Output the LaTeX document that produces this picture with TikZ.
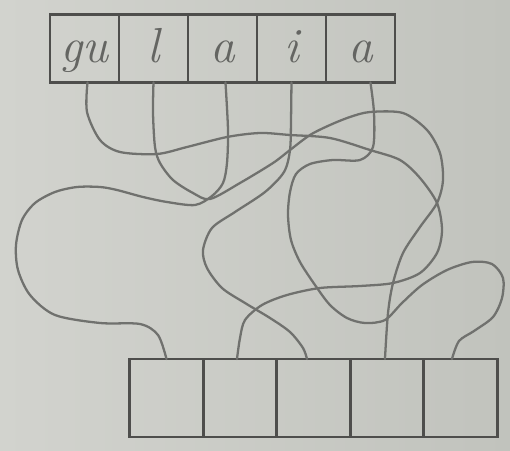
\documentclass[tikz,border=0pt]{standalone}
\usepackage{xcolor}
\usepackage{tikz}
\usetikzlibrary{positioning}
\definecolor{paperlight}{RGB}{210,211,206}
\definecolor{paperdark}{RGB}{193,195,189}
\definecolor{pencil}{RGB}{112,113,110}
\definecolor{boxline}{RGB}{78,78,76}
\definecolor{letter}{RGB}{100,101,98}

\begin{document}
\begin{tikzpicture}[x=0.02cm, y=-0.02cm,
        topcell/.style={rectangle, draw=boxline, line width=1.6pt, minimum width=1.38cm, minimum height=1.36cm, inner sep=0pt, outer sep=0pt, text=letter, font=\fontsize{28}{30}\selectfont\itshape, text height=0.6cm, text depth=0.06cm},
        botcell/.style={rectangle, draw=boxline, line width=1.6pt, minimum width=1.47cm, minimum height=1.56cm, inner sep=0pt, outer sep=0pt},
        wire/.style={draw=pencil, line width=1.3pt, line cap=round, line join=round}
    ]
        \shade[left color=paperlight, right color=paperdark] (0,0) rectangle (510,450);
        \node[topcell] (t1) at (84.5,48.5) {gu};
        \node[topcell, right=0pt of t1] (t2) {l};
        \node[topcell, right=0pt of t2] (t3) {a};
        \node[topcell, right=0pt of t3] (t4) {i};
        \node[topcell, right=0pt of t4] (t5) {a};
        \node[botcell] (b1) at (166.5,398) {};
        \node[botcell, right=0pt of b1] (b2) {};
        \node[botcell, right=0pt of b2] (b3) {};
        \node[botcell, right=0pt of b3] (b4) {};
        \node[botcell, right=0pt of b4] (b5) {};
        \draw[wire] plot[smooth] coordinates {([xshift=0.06cm]t1.south) (87,112) (100,140) (120,152) (157,154) (187,147) (227,137) (260,133) (290,135) (330,138) (370,150) (400,160) (420,178) (437,203) (442,230) (437,253) (420,273) (393,283) (360,286) (320,288) (287,295) (262,305) (245,320) (240,338) ([xshift=-0.06cm]b2.north)};
        \draw[wire] plot[smooth] coordinates {(t2.south) (153,113) (155,147) (160,163) (173,180) (193,193) (210,199) (240,183) (273,163) (290,150) (310,135) (330,125) (350,117) (370,112) (403,113) (427,130) (440,153) (443,180) (437,203) (420,227) (403,253) (393,283) (388,313) ([xshift=-0.04cm]b4.north)};
        \draw[wire] plot[smooth] coordinates {([xshift=0.06cm]t3.south) (228,130) (227,163) (223,183) (212,196) (195,205) (167,202) (143,197) (117,190) (100,187) (77,187) (55,192) (35,203) (22,220) (16,245) (18,270) (30,295) (55,315) (100,323) (140,324) (158,335) (b1.north)};
        \draw[wire] plot[smooth] coordinates {(t4.south) (291,120) (290,150) (284,172) (265,192) (235,212) (212,228) (203,250) (207,268) (222,288) (245,303) (270,318) (290,332) (303,348) ([xshift=-0.13cm]b3.north)};
        \draw[wire] plot[smooth] coordinates {([xshift=0.2cm]t5.south) (374,113) (373,147) (360,160) (333,160) (310,164) (296,174) (290,192) (288,215) (291,240) (300,262) (315,285) (330,305) (347,318) (365,323) (385,320) (402,303) (422,285) (447,270) (472,262) (492,264) (503,278) (502,298) (493,317) (474,331) (459,341) ([xshift=-0.17cm]b5.north)};
    \end{tikzpicture}
\end{document}
